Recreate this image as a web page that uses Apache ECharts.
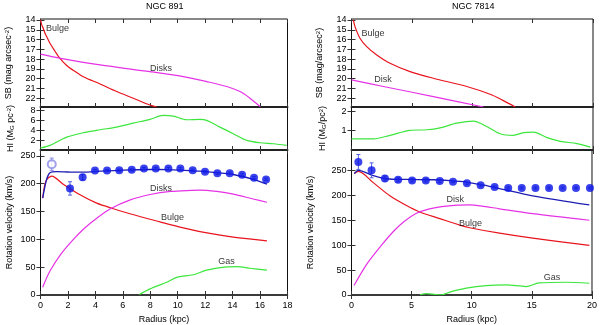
<!DOCTYPE html>
<html><head><meta charset="utf-8">
<script src="https://cdn.jsdelivr.net/npm/echarts@6/dist/echarts.min.js"></script>
<style>html,body{margin:0;padding:0;background:#fff}#c{width:600px;height:325px}</style>
</head><body><div id="c"></div>
<script>
// ---------------- DATA ----------------
// NGC 891
const sbBulge891X = [0.01,0.09,0.2,0.33,0.5,0.69,1.06,1.37,1.91,2.5,3.12,4.34,5.55,6.76,7.97,8.47];
const sbBulge891Y = [14.0,14.5,14.85,15.36,15.85,16.38,17.2,17.85,18.65,19.25,19.8,20.54,21.32,22.0,22.7,22.9];
const sbDisk891X = [0,1.37,4.34,7.98,10.41,12.11,13.57,14.54,15.27,16.0];
const sbDisk891Y = [17.5,17.9,18.6,19.28,19.79,20.3,20.8,21.32,22.0,22.85];
const hi891X = [0,0.69,1.91,3.12,4.34,5.55,6.76,7.98,8.95,9.68,10.65,11.62,12.11,13.08,14.05,15.03,16.0,16.97,17.94];
const hi891Y = [0.4,0.93,2.6,3.5,4.1,4.63,5.43,6.2,7.0,6.85,6.12,6.2,6.0,4.63,3.3,1.94,1.47,1.27,0.93];
const model891X = [0.16,0.45,0.69,1.18,2.0,3.12,4.34,6.0,8.0,9.2,10.5,11.62,12.8,14.05,15.5,16.5];
const model891Y = [174,208,219.5,221.5,221,220.6,222.5,224.5,225.5,225.4,224,222.4,220,216.5,207.7,199];
const bulge891X = [0.16,0.4,0.82,1.66,2.88,4.1,5.31,6.52,8.7,10.41,11.62,14.05,16.5];
const bulge891Y = [174,205,213.6,199,180,165,155,146,131.5,120.5,114,104,97.4];
const disks891X = [0.16,0.69,1.5,2.4,3.2,4.1,5.1,6.5,8.0,9.5,11.0,11.62,12.84,14.05,15.5,16.5];
const disks891Y = [14,43,74,100,120,138,155,170.5,180.5,186,188,188.4,186,181.3,172.5,166.7];
const gas891X = [7.2,7.98,9.2,9.93,11.14,12.11,13.57,14.3,15.27,16.5];
const gas891Y = [1,11,22.9,31.7,36.4,44.6,50.5,51,48.1,44.6];
const obs891X = [2.15,3.07,3.97,4.85,5.74,6.65,7.54,8.4,9.32,10.19,11.09,11.99,12.89,13.79,14.69,15.56,16.44];
const obs891Y = [191.5,211.5,223.6,223.6,224.1,224.8,227.1,227.1,227.1,227.1,224.1,221.3,218.8,218.8,216,210.7,207.7];
const obs891E = [12,5,2,2,2,2,2,2,2,2,2,2,2,2,2,2,2];
const open891X = [0.82];
const open891Y = [235];
const open891E = [11];

// NGC 7814
const sbBulge7814X = [0.15,0.29,0.7,1.26,2.09,3.19,4.85,6.78,9.55,11.48,12.5,13.56];
const sbBulge7814Y = [14.0,14.68,15.87,16.73,17.58,18.43,19.28,19.96,20.8,21.6,22.2,22.9];
const sbDisk7814X = [0,2.64,6.78,10.93];
const sbDisk7814Y = [20.13,20.8,21.83,22.9];
const hi7814X = [0,1.81,3.19,4.85,6.24,7.34,8.72,10.1,11.2,12.3,13.4,14.25,15.07,16.2,17.3,18.67,19.78];
const hi7814Y = [0.58,0.58,0.76,1.02,1.05,1.15,1.39,1.5,1.22,0.84,0.76,0.9,0.93,0.64,0.45,0.33,0.15];
const model7814X = [0.23,0.57,1.81,2.92,4.5,6.78,8.2,9.55,10.9,12.31,15.07,19.78];
const model7814Y = [243.8,250.2,239.8,233.3,232,231.3,229.5,226.6,220.8,213.7,199.1,180.8];
const bulge7814X = [0.23,0.57,1.81,3.19,4.57,5.68,7.34,9.0,9.83,12.31,15.07,19.78];
const bulge7814Y = [243.8,248,225.5,199.1,179.5,166.5,153.3,140.2,135,124,114,99.7];
const disk7814X = [0.21,1.26,2.5,3.5,4.4,5.4,6.4,7.5,8.8,9.8,11.0,12.3,15.07,19.78];
const disk7814Y = [19,61.5,100,128,148,164,172.5,177.5,180.3,180.8,178,173,163.2,150];
const gas7814X = [5.7,6.24,7.0,7.5,8.17,9.55,11.2,12.86,14.5,15.6,17.85,19.78];
const gas7814Y = [0.5,2.6,1,0.5,5.9,13.8,19,20.3,17,24.2,25.6,23.6];
const obs7814X = [0.57,1.67,2.78,3.88,5.04,6.18,7.34,8.44,9.6,10.74,11.9,13.03,14.16,15.3,16.43,17.56,18.67,19.83];
const obs7814Y = [267,250.2,233.9,231.3,230,230,228.6,227.4,224.1,220.2,216.8,214.9,214.9,214.9,214.9,214.9,214.9,214.9];
const obs7814E = [15,15,5,4,3,3,3,2,2,2,2,2,2,2,2,2,2,2];

// tick labels
const sbTicks = [14,15,16,17,18,19,20,21,22];
const hi891Ticks = [2,4,6,8];
const hi7814Ticks = [1,2];
const vTicks = [0,50,100,150,200,250];

// annotations: [panel, text, x, y]
const notes = [
  [0,'Bulge',1.24,14.92],[0,'Disks',8.78,19.0],
  [2,'Disks',8.78,191.9],[2,'Bulge',9.62,139],[2,'Gas',13.56,59.9],
  [3,'Bulge',1.78,15.43],[3,'Disk',2.61,20.13],
  [5,'Disk',8.62,191.3],[5,'Bulge',9.9,144],[5,'Gas',16.67,35.4]
];

// ---------------- LAYOUT ----------------
const FONT = 'Liberation Sans';
const RED='#e8141e', MAG='#e632e6', GRN='#3ce63c', BLU='#1e1eb4', PT='#0a14e6';
const zip=(a,b,c)=>a.map((v,i)=>c?[v,b[i],c[i]]:[v,b[i]]);

const panels = [
  {left:40.5,top:19,width:247,height:88, xmax:18, xint:2, ymin:13.9, ymax:22.9, inv:true, ticks:sbTicks},
  {left:40.5,top:107,width:247,height:43, xmax:18, xint:2, ymin:0, ymax:8.7, ticks:hi891Ticks},
  {left:40.5,top:150,width:247,height:148, xmax:18, xint:2, ymin:0, ymax:260.5, ticks:vTicks, xlab:true},
  {left:351.5,top:19,width:241.5,height:88, xmax:20, xint:5, ymin:13.9, ymax:22.9, inv:true, ticks:sbTicks},
  {left:351.5,top:107,width:241.5,height:43, xmax:20, xint:5, ymin:0, ymax:2.23, ticks:hi7814Ticks},
  {left:351.5,top:150,width:241.5,height:148, xmax:20, xint:5, ymin:0, ymax:291, ticks:vTicks, xlab:true}
];
const yNames = [
  {t:'{a|SB (mag arcsec}{s|-2}{a|)}', gap:27},
  {t:'{a|HI (M}{b|G}{a| pc}{s|-2}{a|)}', gap:25},
  {t:'{a|Rotation velocity (km/s)}', gap:26},
  {t:'{a|SB (mag/arcsec}{s|2}{a|)}', gap:27},
  {t:'{a|HI (M}{b|G}{a|/pc}{s|2}{a|)}', gap:24},
  {t:'{a|Rotation velocity (km/s)}', gap:36}
];
const rich = {a:{fontSize:9,fontFamily:FONT,color:'#000'}, s:{fontSize:6,fontFamily:FONT,color:'#000',verticalAlign:'top',lineHeight:6}, b:{fontSize:6,fontFamily:FONT,color:'#000',verticalAlign:'bottom',lineHeight:6}};

const grid=[], xAxis=[], yAxis=[];
const tickStyle = {inside:true,length:4,lineStyle:{color:'#333',width:1}};
panels.forEach((p,i)=>{
  grid.push({left:p.left,top:p.top,width:p.width,height:p.height,show:true,borderColor:'#111',borderWidth:1,backgroundColor:'transparent'});
  xAxis.push({type:'value',gridIndex:i,min:0,max:p.xmax,interval:p.xint,position:'bottom',
    axisLine:{show:true,onZero:false,lineStyle:{color:'#222',width:p.xlab?1.5:2}},
    axisTick:tickStyle, splitLine:{show:false},
    axisLabel:{show:!!p.xlab,fontSize:9,fontFamily:FONT,color:'#000',margin:6},
    name:p.xlab?'Radius (kpc)':'', nameLocation:'middle', nameGap:20,
    nameTextStyle:{fontSize:9,fontFamily:FONT,color:'#000'}});
  xAxis.push({type:'value',gridIndex:i,min:0,max:p.xmax,interval:p.xint,position:'top',
    axisLine:{show:false},axisTick:tickStyle,splitLine:{show:false},axisLabel:{show:false}});
  yAxis.push({type:'value',gridIndex:i,min:p.ymin,max:p.ymax,inverse:!!p.inv,position:'left',
    axisLine:{show:true,onZero:false,lineStyle:{color:'#111',width:1}},
    axisTick:Object.assign({customValues:p.ticks},tickStyle), splitLine:{show:false},
    axisLabel:{customValues:p.ticks,fontSize:9,fontFamily:FONT,color:'#000',margin:5},
    name:yNames[i].t, nameLocation:'middle', nameRotate:90, nameGap:yNames[i].gap,
    nameTextStyle:{rich:rich}});
  yAxis.push({type:'value',gridIndex:i,min:p.ymin,max:p.ymax,inverse:!!p.inv,position:'right',
    axisLine:{show:false},axisTick:Object.assign({customValues:p.ticks},tickStyle),
    splitLine:{show:false},axisLabel:{show:false}});
});

function line(panel,xs,ys,color,w){
  return {type:'line',xAxisIndex:panel*2,yAxisIndex:panel*2,data:zip(xs,ys),showSymbol:false,
    smooth:0.3,lineStyle:{color:color,width:w||1.2},itemStyle:{color:color},silent:true,animation:false,z:3};
}
function errbars(panel,xs,ys,es,color){
  return {type:'custom',xAxisIndex:panel*2,yAxisIndex:panel*2,data:zip(xs,ys,es),animation:false,z:4,
    renderItem:(params,api)=>{
      const x=api.value(0),y=api.value(1),e=api.value(2);
      const a=api.coord([x,y-e]), b=api.coord([x,y+e]);
      const st={stroke:color,lineWidth:1};
      return {type:'group',children:[
        {type:'line',shape:{x1:a[0],y1:a[1],x2:b[0],y2:b[1]},style:st},
        {type:'line',shape:{x1:a[0]-2,y1:a[1],x2:a[0]+2,y2:a[1]},style:st},
        {type:'line',shape:{x1:b[0]-2,y1:b[1],x2:b[0]+2,y2:b[1]},style:st}]};
    }};
}
function pts(panel,xs,ys,color,sym){
  return {type:'scatter',xAxisIndex:panel*2,yAxisIndex:panel*2,data:zip(xs,ys),symbol:sym||'circle',
    symbolSize:8,itemStyle:{color:color,borderColor:color,borderWidth:sym?1:0},animation:false,z:5};
}

const series = [
  line(0,sbBulge891X,sbBulge891Y,RED), line(0,sbDisk891X,sbDisk891Y,MAG),
  line(1,hi891X,hi891Y,GRN),
  line(2,bulge891X,bulge891Y,RED), line(2,disks891X,disks891Y,MAG), line(2,gas891X,gas891Y,GRN),
  line(2,model891X,model891Y,BLU,1.3),
  errbars(2,obs891X,obs891Y,obs891E,'#5060e0'), pts(2,obs891X,obs891Y,PT),
  errbars(2,open891X,open891Y,open891E,'#8a8ae6'), pts(2,open891X,open891Y,'#8a8ae6','emptyCircle'),
  line(3,sbBulge7814X,sbBulge7814Y,RED), line(3,sbDisk7814X,sbDisk7814Y,MAG),
  line(4,hi7814X,hi7814Y,GRN),
  line(5,bulge7814X,bulge7814Y,RED), line(5,disk7814X,disk7814Y,MAG), line(5,gas7814X,gas7814Y,GRN),
  line(5,model7814X,model7814Y,BLU,1.3),
  errbars(5,obs7814X,obs7814Y,obs7814E,'#5060e0'), pts(5,obs7814X,obs7814Y,PT)
];
// annotation labels
[0,2,3,5].forEach(pi=>{
  series.push({type:'scatter',xAxisIndex:pi*2,yAxisIndex:pi*2,symbolSize:1,itemStyle:{color:'rgba(0,0,0,0)'},
    animation:false,silent:true,z:6,
    data:notes.filter(n=>n[0]===pi).map(n=>({name:n[1],value:[n[2],n[3]]})),
    label:{show:true,position:'inside',formatter:'{b}',fontSize:9,fontFamily:FONT,color:'#000'}});
});

const option = {
  animation:false,
  backgroundColor:'#fff',
  textStyle:{fontFamily:FONT},
  graphic:[
    {type:'text',left:146,top:2,style:{text:'NGC 891',font:'9px "Liberation Sans"',fill:'#000'}},
    {type:'text',left:452,top:2,style:{text:'NGC 7814',font:'9px "Liberation Sans"',fill:'#000'}}
  ],
  grid:grid, xAxis:xAxis, yAxis:yAxis, series:series
};
const chart = echarts.init(document.getElementById('c'),null,{renderer:'canvas'});
chart.setOption(option);
</script></body></html>
